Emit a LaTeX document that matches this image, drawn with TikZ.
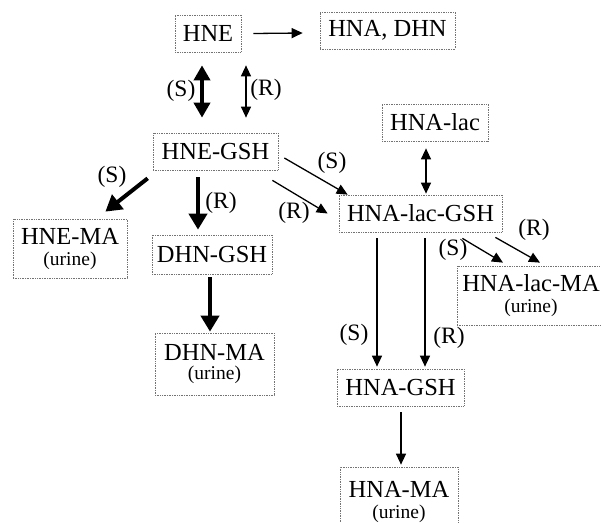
\documentclass[tikz,border=0pt]{standalone}
\usepackage{fontspec}
\setmainfont{Liberation Serif}
\usetikzlibrary{arrows.meta,calc}
\newcommand{\urinefont}{\fontsize{19.5}{21}\selectfont}
\begin{document}
\begin{tikzpicture}[x=1pt,y=-1pt,
  box/.style={draw=black!55,densely dotted,line width=0.7pt,inner sep=0pt,font=\fontsize{24.5}{26}\selectfont,align=center},
  lbl/.style={font=\fontsize{23.5}{25}\selectfont,inner sep=0pt},
  thick arrow/.style={line width=4pt,-{Triangle[length=16pt,width=18pt]}},
  thick double/.style={line width=4pt,{Triangle[length=15pt,width=16pt]}-{Triangle[length=15pt,width=16pt]}},
  thin arrow/.style={line width=1.3pt,-{Triangle[length=11pt,width=10pt]}},
  thin double/.style={line width=1.3pt,{Triangle[length=11pt,width=10pt]}-{Triangle[length=11pt,width=10pt]}}
]
\useasboundingbox[fill=white] (0,0) rectangle (601,522);
\node[box,minimum width=66pt,minimum height=37pt] (hne) at (208,33.5) {HNE};
\node[box,minimum width=135pt,minimum height=37pt] (hnadhn) at (387.5,30.5) {HNA, DHN};
\node[box,minimum width=125pt,minimum height=37pt] (hnegsh) at (215.5,151.5) {HNE-GSH};
\node[box,minimum width=106pt,minimum height=37pt] (hnalac) at (435,122.5) {HNA-lac};
\node[box,minimum width=163pt,minimum height=37pt] (hnalacgsh) at (420.5,213.5) {HNA-lac-GSH};
\node[box,minimum width=114pt,minimum height=59pt] (hnema) at (70,248.5) {HNE-MA\\[-5pt]{\urinefont(urine)}};
\node[box,minimum width=120pt,minimum height=39pt] (dhngsh) at (212,254.5) {DHN-GSH};
\node[box,minimum width=119pt,minimum height=62pt] (dhnma) at (214.5,364) {DHN-MA\\[-7pt]{\urinefont(urine)}};
\node[box,minimum width=148pt,minimum height=59pt] (hnalacma) at (531,295.5) {HNA-lac-MA\\[-5pt]{\urinefont(urine)}};
\node[box,minimum width=127pt,minimum height=37pt] (hnagsh) at (400.5,387.5) {HNA-GSH};
\node[box,minimum width=118pt,minimum height=70pt] (hnama) at (399,502) {HNA-MA\\[-5pt]{\urinefont(urine)}};

% HNE -> HNA, DHN
\draw[thin arrow] ([xshift=12pt]hne.east) -- ([xshift=-17pt,yshift=-2.5pt]hnadhn.west);
% HNE <-> HNE-GSH
\draw[thick double] ([shift={(-6pt,-13pt)}]hne.south) -- ([shift={(-13.5pt,15pt)}]hnegsh.north);
\draw[thin double] ([shift={(38pt,-13pt)}]hne.south) -- ([shift={(30.5pt,15pt)}]hnegsh.north);
\node[lbl] (s1) at (181,91) {(S)};
\node[lbl] (r1) at (266,90) {(R)};

% HNE-GSH -> HNA-lac-GSH
\draw[thin arrow] ([shift={(6pt,-6.5pt)}]hnegsh.east) -- ([xshift=9pt]hnalacgsh.north west);
\draw[thin arrow] ([shift={(-6pt,-10pt)}]hnegsh.south east) -- ([xshift=-11pt]hnalacgsh.west);
\node[lbl] (s2) at (332,163) {(S)};
\node[lbl] (r2) at (294,213) {(R)};

% HNE-GSH -> HNE-MA, DHN-GSH
\draw[thick arrow] ([shift={(-5pt,-8pt)}]hnegsh.south west) -- ([shift={(-22pt,7pt)}]hnema.north east);
\node[lbl] (s3) at (112,177) {(S)};
\draw[thick arrow] ([shift={(-17.5pt,-7pt)}]hnegsh.south) -- ([shift={(-14pt,5pt)}]dhngsh.north);
\node[lbl] (r3) at (221,203) {(R)};
% DHN-GSH -> DHN-MA
\draw[thick arrow] ([shift={(-2pt,-3pt)}]dhngsh.south) -- ([shift={(-4.5pt,1pt)}]dhnma.north);

% HNA-lac <-> HNA-lac-GSH
\draw[thin double] ([shift={(-9pt,-7pt)}]hnalac.south) -- ([shift={(5.5pt,1pt)}]hnalacgsh.north);

% HNA-lac-GSH -> HNA-GSH
\draw[thin arrow] ([shift={(-43.5pt,-6pt)}]hnalacgsh.south) -- ([shift={(-23.5pt,2pt)}]hnagsh.north);
\draw[thin arrow] ([shift={(4.5pt,-6pt)}]hnalacgsh.south) -- ([shift={(24.5pt,2pt)}]hnagsh.north);
\node[lbl] (s4) at (354,335) {(S)};
\node[lbl] (r4) at (449,338) {(R)};

% HNA-lac-GSH -> HNA-lac-MA
\draw[thin arrow] ([shift={(-40pt,-6pt)}]hnalacgsh.south east) -- ([shift={(-28pt,3pt)}]hnalacma.north);
\draw[thin arrow] ([shift={(-7pt,-5pt)}]hnalacgsh.south east) -- ([shift={(9pt,3pt)}]hnalacma.north);
\node[lbl] (s5) at (453,250) {(S)};
\node[lbl] (r5) at (534,230) {(R)};

% HNA-GSH -> HNA-MA
\draw[thin arrow] ([shift={(0.5pt,-6pt)}]hnagsh.south) -- ([shift={(2pt,2pt)}]hnama.north);
\end{tikzpicture}
\end{document}
